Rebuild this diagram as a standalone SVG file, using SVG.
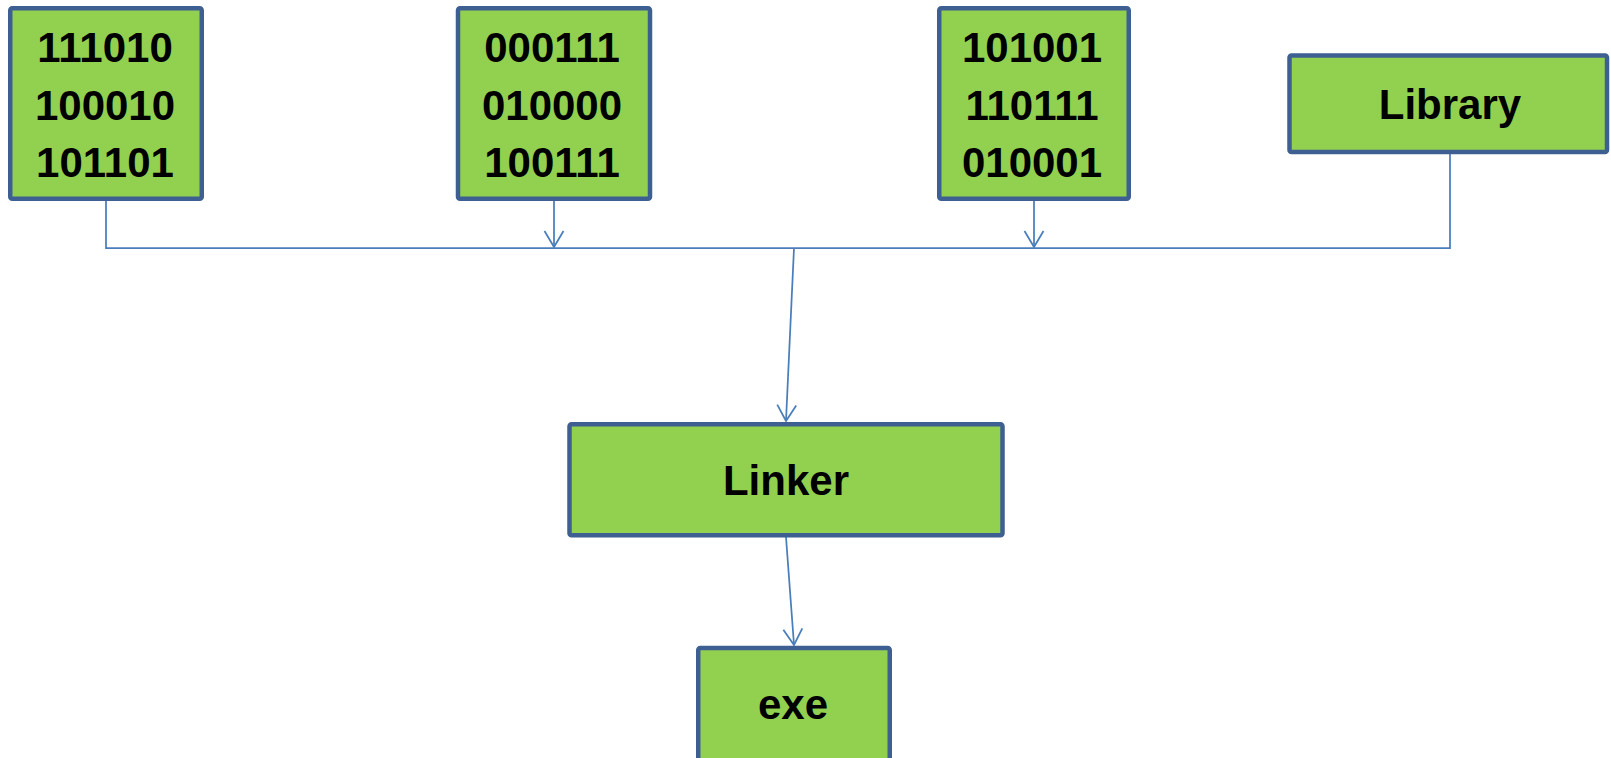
<svg xmlns="http://www.w3.org/2000/svg" width="1611" height="758" viewBox="0 0 1611 758">
  <style>
    .box { fill: #92D050; stroke: #3E5F92; stroke-width: 4.5; }
    .lbl { font-family: "Liberation Sans", Arial, sans-serif; font-weight: bold; font-size: 42px; fill: #000; text-anchor: middle; }
    .wire { fill: none; stroke: #4A7EBB; stroke-width: 1.75; }
  </style>
  <defs>
    <marker id="vee" markerUnits="userSpaceOnUse" orient="auto" refX="0" refY="0" markerWidth="20" markerHeight="20" overflow="visible">
      <path d="M -16 -9.5 L 0 0 L -16 9.5" fill="none" stroke="#4A7EBB" stroke-width="1.75"/>
    </marker>
  </defs>

  <g id="connectors">
    <path class="wire" d="M 106 201 V 248 H 1450 V 154"/>
    <path class="wire" d="M 554 201 V 247" marker-end="url(#vee)"/>
    <path class="wire" d="M 1034 201 V 247" marker-end="url(#vee)"/>
    <path class="wire" d="M 794 248 L 786 421" marker-end="url(#vee)"/>
    <path class="wire" d="M 786 537 L 794 645" marker-end="url(#vee)"/>
  </g>

  <g id="obj1">
    <rect class="box" x="10.25" y="8.25" width="191.5" height="190.5" rx="2"/>
    <text class="lbl" x="105" y="62">111010</text>
    <text class="lbl" x="105" y="119.5">100010</text>
    <text class="lbl" x="105" y="177">101101</text>
  </g>

  <g id="obj2">
    <rect class="box" x="458" y="8.25" width="192" height="190.5" rx="2"/>
    <text class="lbl" x="552" y="62">000111</text>
    <text class="lbl" x="552" y="119.5">010000</text>
    <text class="lbl" x="552" y="177">100111</text>
  </g>

  <g id="obj3">
    <rect class="box" x="939.25" y="8.25" width="189.5" height="190.5" rx="2"/>
    <text class="lbl" x="1032" y="62">101001</text>
    <text class="lbl" x="1032" y="119.5">110111</text>
    <text class="lbl" x="1032" y="177">010001</text>
  </g>

  <g id="library">
    <rect class="box" x="1289.5" y="55.5" width="317.5" height="96.5" rx="2"/>
    <text class="lbl" x="1450" y="119">Library</text>
  </g>

  <g id="linker">
    <rect class="box" x="569.5" y="424.25" width="433" height="111" rx="2"/>
    <text class="lbl" x="786" y="495">Linker</text>
  </g>

  <g id="exe">
    <rect class="box" x="698.25" y="648" width="191.5" height="130" rx="2"/>
    <text class="lbl" x="793" y="719">exe</text>
  </g>
</svg>
